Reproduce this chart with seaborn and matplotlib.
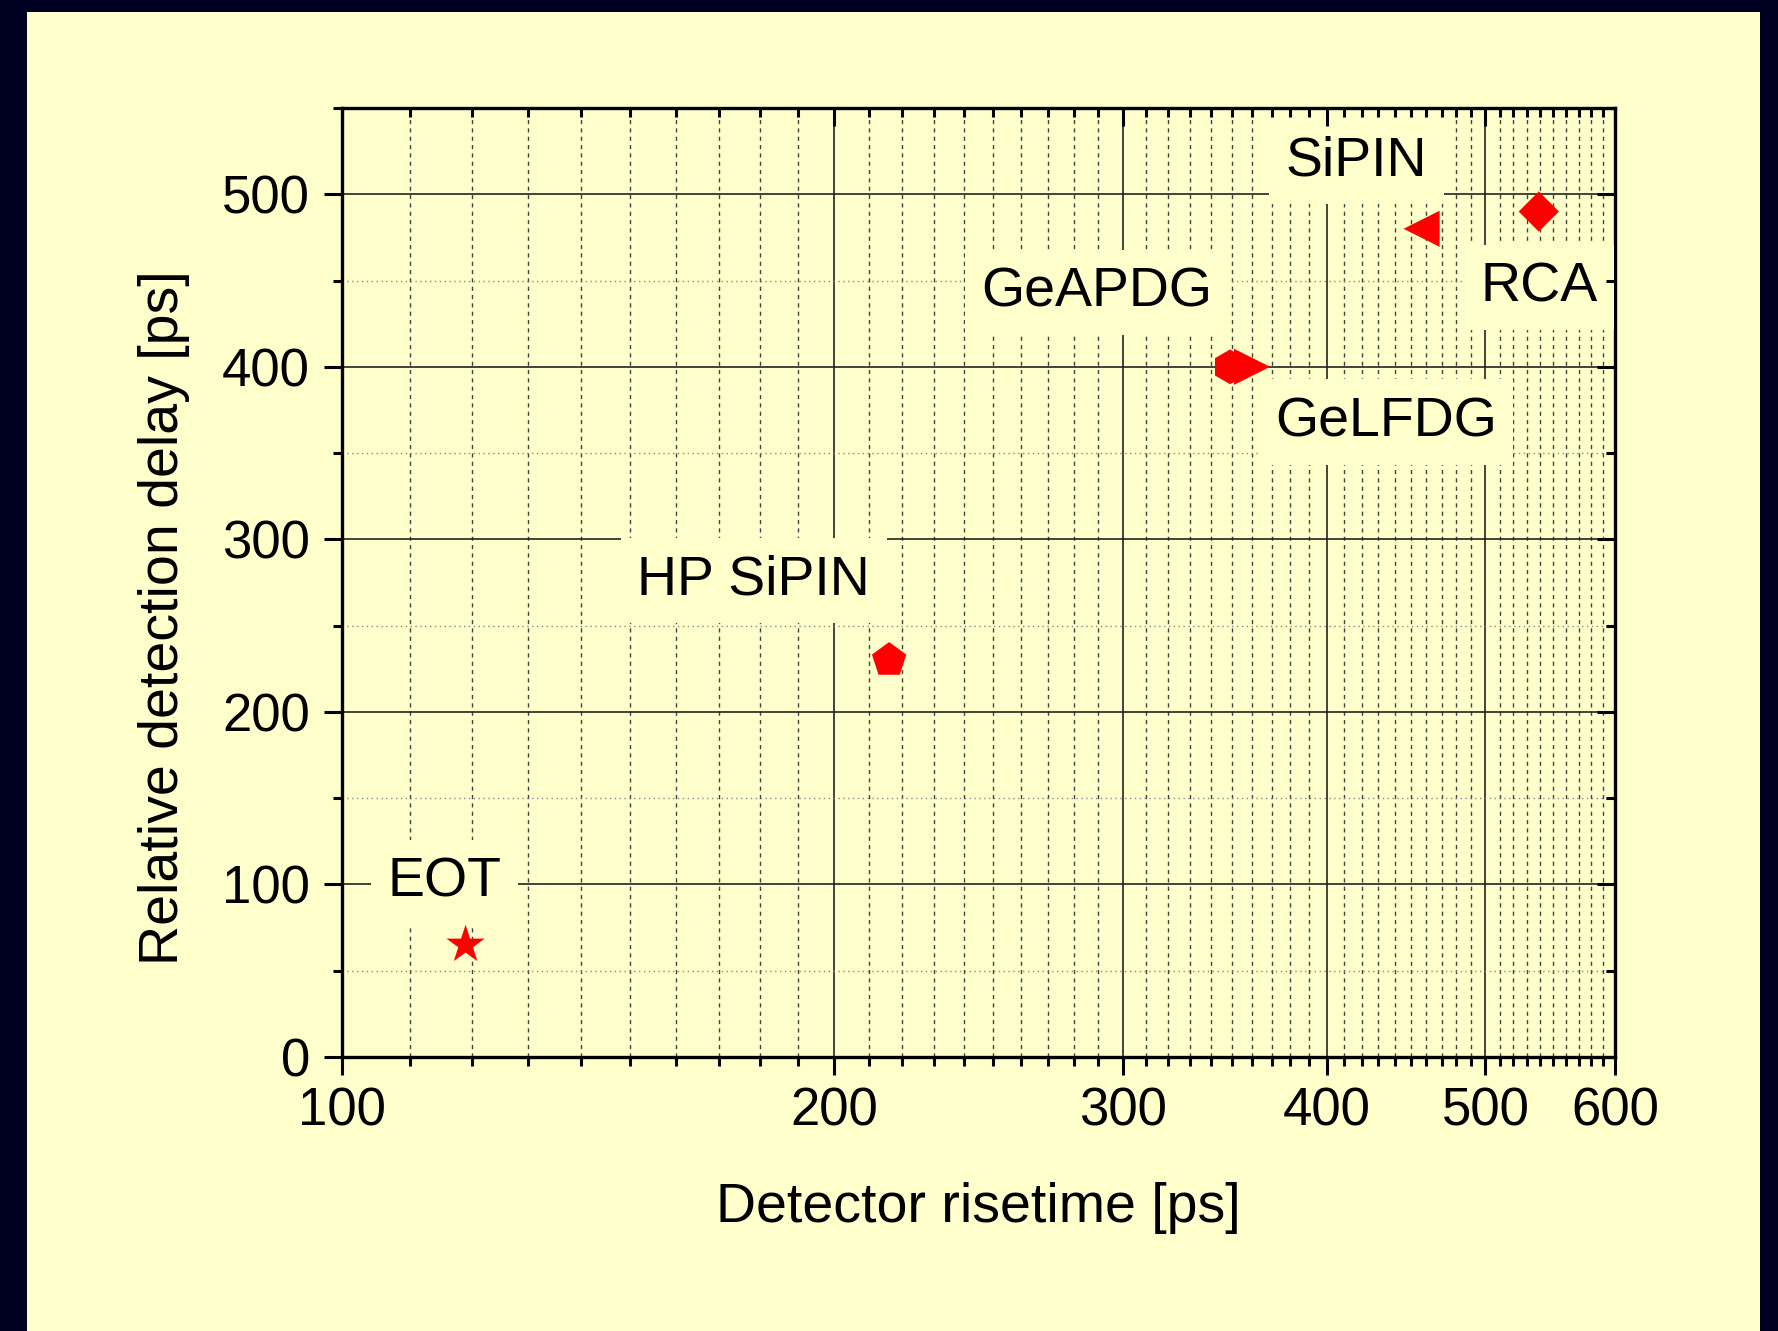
import numpy as np
import pandas as pd
import matplotlib
matplotlib.use("Agg")
import matplotlib.pyplot as plt
from matplotlib.patches import Rectangle
from matplotlib.ticker import FixedLocator, NullFormatter
import seaborn as sns

# ---- data ----
devices = ["EOT", "HP SiPIN", "GeAPDG", "GeLFDG", "SiPIN", "RCA"]
risetime_ps = [119, 216, 349, 360, 457, 539]
delay_ps = [65, 230, 400, 400, 480, 490]
marker_shapes = ["*", "p", "h", ">", "<", "D"]
marker_sizes_pt = [29, 26, 25, 26, 26, 20.5]

label_text = ["EOT", "HP SiPIN", "GeAPDG", "GeLFDG", "SiPIN", "RCA"]
label_x = [115.5, 178.5, 289.5, 434.5, 417, 539]
label_y = [101, 276, 443, 368, 519, 446]

x_major = [100, 200, 300, 400, 500, 600]
x_major_labels = ["100", "200", "300", "400", "500", "600"]
y_major = [0, 100, 200, 300, 400, 500]
y_major_labels = ["0", "100", "200", "300", "400", "500"]

df = pd.DataFrame({"risetime": risetime_ps, "delay": delay_ps, "device": devices})

# ---- style ----
sns.set_theme(style="white")
plt.rcParams["font.family"] = ["Liberation Sans", "DejaVu Sans"]

BG = "#FFFFCC"
FRAME = "#000022"
FS = 38

fig = plt.figure(figsize=(17.78, 13.31), dpi=100, facecolor=FRAME)
fig.patches.append(Rectangle((27 / 1778, 0), (1760 - 27) / 1778, 1 - 12 / 1331,
                             transform=fig.transFigure, facecolor=BG,
                             edgecolor="none", zorder=-10))
ax = fig.add_axes([342 / 1778, 1 - 1057 / 1331, (1615 - 342) / 1778, (1057 - 108) / 1331])
ax.set_facecolor(BG)

sns.scatterplot(data=df, x="risetime", y="delay", style="device", size="device",
                markers=dict(zip(devices, marker_shapes)),
                sizes={d: s ** 2 for d, s in zip(devices, marker_sizes_pt)},
                color="#FF0000", linewidth=0, legend=False, ax=ax, zorder=5)

ax.set_xscale("log")
ax.set_xlim(100, 600)
ax.set_ylim(0, 550)

x_minor = [v for v in range(110, 600, 10) if v not in x_major]
y_minor = list(range(50, 600, 100))

ax.xaxis.set_major_locator(FixedLocator(x_major))
ax.set_xticklabels(x_major_labels)
ax.xaxis.set_minor_locator(FixedLocator(x_minor))
ax.xaxis.set_minor_formatter(NullFormatter())
ax.yaxis.set_major_locator(FixedLocator(y_major))
ax.set_yticklabels(y_major_labels)
ax.yaxis.set_minor_locator(FixedLocator(y_minor))
ax.yaxis.set_minor_formatter(NullFormatter())

ax.tick_params(which="major", direction="out", length=13, width=2.2,
               labelsize=FS, color="black", labelcolor="black")
ax.tick_params(which="minor", direction="out", length=6.5, width=2.2, color="black")
ax.tick_params(axis="x", which="major", pad=8)
ax.tick_params(axis="y", which="major", pad=10)

for sp in ax.spines.values():
    sp.set_linewidth(2.4)
    sp.set_color("black")
    sp.set_visible(True)

# grids
ax.set_axisbelow(True)
ax.grid(which="major", axis="both", color="#222222", linewidth=1.2, linestyle="-")
ax.grid(which="minor", axis="x", color="#444444", linewidth=1.0, linestyle=(0, (3, 3)))
ax.grid(which="minor", axis="y", color="#888888", linewidth=1.0, linestyle=(0, (1, 2.5)))

# mirrored inward ticks on top and right
axt = ax.twiny()
axt.set_xscale("log")
axt.set_xlim(ax.get_xlim())
axt.xaxis.set_major_locator(FixedLocator(x_major))
axt.xaxis.set_minor_locator(FixedLocator(x_minor))
axt.xaxis.set_major_formatter(NullFormatter())
axt.xaxis.set_minor_formatter(NullFormatter())
axt.tick_params(axis="x", which="major", direction="in", length=13, width=2.2, color="black")
axt.tick_params(axis="x", which="minor", direction="in", length=6.5, width=2.2, color="black")
axt.grid(False)

axr = ax.twinx()
axr.set_ylim(ax.get_ylim())
axr.yaxis.set_major_locator(FixedLocator(y_major))
axr.yaxis.set_minor_locator(FixedLocator(y_minor))
axr.yaxis.set_major_formatter(NullFormatter())
axr.yaxis.set_minor_formatter(NullFormatter())
axr.tick_params(axis="y", which="major", direction="in", length=13, width=2.2, color="black")
axr.tick_params(axis="y", which="minor", direction="in", length=6.5, width=2.2, color="black")
axr.grid(False)
for a in (axt, axr):
    a.patch.set_visible(False)
    for sp in a.spines.values():
        sp.set_visible(False)

# labels
for t, lx, ly in zip(label_text, label_x, label_y):
    ax.text(lx, ly, t, fontsize=40, ha="center", va="center", color="black", zorder=4,
            bbox=dict(boxstyle="square,pad=0.3", facecolor=BG, edgecolor="none"))

ax.set_xlabel("Detector risetime [ps]", fontsize=40, color="black", labelpad=33)
ax.set_ylabel("Relative detection delay [ps]", fontsize=40, color="black")
ax.yaxis.set_label_coords(-0.1195, 0.463)

fig.savefig("out.png", dpi=100, facecolor=FRAME)
